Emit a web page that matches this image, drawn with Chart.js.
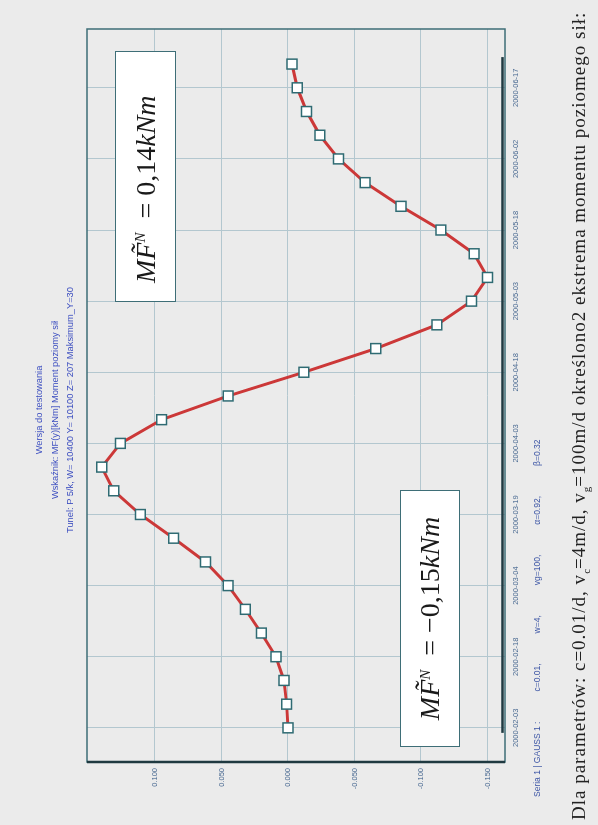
<!DOCTYPE html>
<html>
<head>
<meta charset="utf-8">
<script src="https://cdn.jsdelivr.net/npm/chart.js@4.4.1/dist/chart.umd.min.js"></script>
<style>
  html, body { margin: 0; padding: 0; background: #ebebeb; overflow: hidden; }
  body { width: 598px; height: 825px; position: relative; }
  /* the sheet is laid out landscape and turned a quarter turn counter-clockwise */
  #sheet {
    position: absolute; left: 0; top: 0; width: 825px; height: 598px;
    transform-origin: 0 0; transform: translate(0, 825px) rotate(-90deg);
    background: #ebebeb;
  }
  #c { position: absolute; left: 0; top: 0; }
  .hdr {
    position: absolute; left: 0; width: 830px; text-align: center;
    font: 9.3px "Liberation Sans", Arial, sans-serif; color: #3d4fc0; white-space: nowrap;
  }
  .series {
    position: absolute; left: 28px; top: 532px;
    font: 8.5px "Liberation Sans", Arial, sans-serif; color: #3c55a5; white-space: nowrap;
  }
  .series span { margin-right: 30px; }
  .caption {
    position: absolute; left: 5px; top: 568px;
    font: 19px "Liberation Serif", "Times New Roman", serif; letter-spacing: 1px;
    color: #222; white-space: nowrap;
  }
  .caption sub { font-size: 11px; letter-spacing: 0; }
  .ext {
    position: absolute; background: #fff; border: 1.5px solid #3e6e77; box-sizing: border-box;
    font: 28px "Liberation Serif", "Times New Roman", serif; color: #1a1a1a;
    display: flex; align-items: center; justify-content: center; white-space: nowrap;
  }
  .ext.lead { justify-content: flex-start; padding-left: 18px; }
  .ext i { font-style: italic; }
  .ext sup { font-size: 15px; font-style: italic; position: relative; top: -5px; }
</style>
</head>
<body>
<div id="sheet">
  <canvas id="c" width="825" height="598"></canvas>
  <div class="hdr" style="top:34px">Wersja do testowania</div>
  <div class="hdr" style="top:50px">Wskaźnik: MF(y)[kNm]  Moment poziomy sił</div>
  <div class="hdr" style="top:65px">Tunel: P 5/k, W= 10400 Y= 10100 Z= 207  Maksimum_Y=30</div>
  <div class="ext lead" style="left:523px; top:115px; width:251px; height:61px;"><i>MF̃</i><sup>N</sup>&nbsp;&nbsp;= 0,14<i>kNm</i></div>
  <div class="ext" style="left:78px; top:400px; width:257px; height:60px;"><i>MF̃</i><sup>N</sup>&nbsp;&nbsp;= −0,15<i>kNm</i></div>
  <div class="series"><span>Seria 1 | GAUSS 1 :</span><span>c=0.01,</span><span>w=4,</span><span>vg=100,</span><span>α=0.92,</span><span>β=0.32</span></div>
  <div class="caption">Dla parametrów: c=0.01/d, v<sub>c</sub>=4m/d, v<sub>g</sub>=100m/d określono2 ekstrema momentu poziomego sił:</div>
</div>
<script>
// sampled dates (every 5 days) and the horizontal force moment MF [kNm]
const pointDates = [
  '2000-02-03','2000-02-08','2000-02-13','2000-02-18','2000-02-23','2000-02-28',
  '2000-03-04','2000-03-09','2000-03-14','2000-03-19','2000-03-24','2000-03-29',
  '2000-04-03','2000-04-08','2000-04-13','2000-04-18','2000-04-23','2000-04-28',
  '2000-05-03','2000-05-08','2000-05-13','2000-05-18','2000-05-23','2000-05-28',
  '2000-06-02','2000-06-07','2000-06-12','2000-06-17','2000-06-22'
];
const momentValues = [
  0.000, 0.001, 0.003, 0.009, 0.020, 0.032,
  0.045, 0.062, 0.086, 0.111, 0.131, 0.140,
  0.126, 0.095, 0.045, -0.012, -0.066, -0.112,
  -0.138, -0.150, -0.140, -0.115, -0.085, -0.058,
  -0.038, -0.024, -0.014, -0.007, -0.003
];
const dateTickLabels = [
  '2000-02-03','2000-02-18','2000-03-04','2000-03-19','2000-04-03',
  '2000-04-18','2000-05-03','2000-05-18','2000-06-02','2000-06-17'
];
const valueTicks = [-0.15, -0.10, -0.05, 0.00, 0.05, 0.10];

const DAY = 86400000;
const ORIGIN = Date.UTC(2000, 1, 3);
const toDay = s => (Date.parse(s + 'T00:00:00Z') - ORIGIN) / DAY;
const toDate = d => new Date(ORIGIN + Math.round(d) * DAY).toISOString().slice(0, 10);

const points = pointDates.map((d, i) => ({ x: toDay(d), y: momentValues[i] }));

const framePlugin = {
  id: 'frame',
  beforeDatasetsDraw(chart) {
    const { ctx, chartArea: a, scales: { x } } = chart;
    ctx.save();
    ctx.strokeStyle = '#3e6e77';
    ctx.lineWidth = 1.5;
    ctx.strokeRect(a.left, a.top, a.right - a.left, a.bottom - a.top);
    ctx.strokeStyle = '#1f3940';
    ctx.lineWidth = 2.5;
    ctx.beginPath();
    ctx.moveTo(a.left, a.top);
    ctx.lineTo(a.left, a.bottom);
    ctx.stroke();
    // dark bar spanning the sampled period along the date axis
    const x0 = x.getPixelForValue(toDay(pointDates[0])) - 5;
    const x1 = x.getPixelForValue(toDay(pointDates[pointDates.length - 1])) + 7;
    ctx.beginPath();
    ctx.moveTo(x0, a.bottom - 2.5);
    ctx.lineTo(x1, a.bottom - 2.5);
    ctx.stroke();
    ctx.restore();
  }
};

new Chart(document.getElementById('c'), {
  type: 'line',
  data: {
    datasets: [{
      data: points,
      borderColor: '#cc3838',
      borderWidth: 3,
      tension: 0,
      pointStyle: 'rect',
      pointRadius: 7,
      pointBorderWidth: 1.5,
      pointBorderColor: '#2f6b73',
      pointBackgroundColor: '#ffffff'
    }]
  },
  options: {
    responsive: false,
    devicePixelRatio: 1,
    animation: false,
    layout: { padding: { top: 87, right: 29, bottom: 0, left: 0 } },
    plugins: { legend: { display: false }, tooltip: { enabled: false }, title: { display: false } },
    scales: {
      x: {
        type: 'linear',
        min: -7.2,
        max: 147.4,
        afterBuildTicks: s => { s.ticks = dateTickLabels.map(d => ({ value: toDay(d) })); },
        afterFit: s => { s.height = 93; },
        grid: { color: '#b3c7cf', lineWidth: 1, drawTicks: false },
        border: { display: false },
        ticks: {
          autoSkip: false, maxRotation: 0, padding: 6,
          color: '#4a6a92', font: { family: 'Liberation Sans', size: 7.5 },
          callback: v => toDate(v)
        }
      },
      y: {
        min: -0.1632,
        max: 0.1511,
        afterBuildTicks: s => { s.ticks = valueTicks.map(v => ({ value: v })); },
        afterFit: s => { s.width = 63; },
        grid: { color: '#b3c7cf', lineWidth: 1, drawTicks: false },
        border: { display: false },
        ticks: {
          padding: 6,
          color: '#4a6a92', font: { family: 'Liberation Sans', size: 7.5 },
          callback: v => v.toFixed(3)
        }
      }
    }
  },
  plugins: [framePlugin]
});
</script>
</body>
</html>
